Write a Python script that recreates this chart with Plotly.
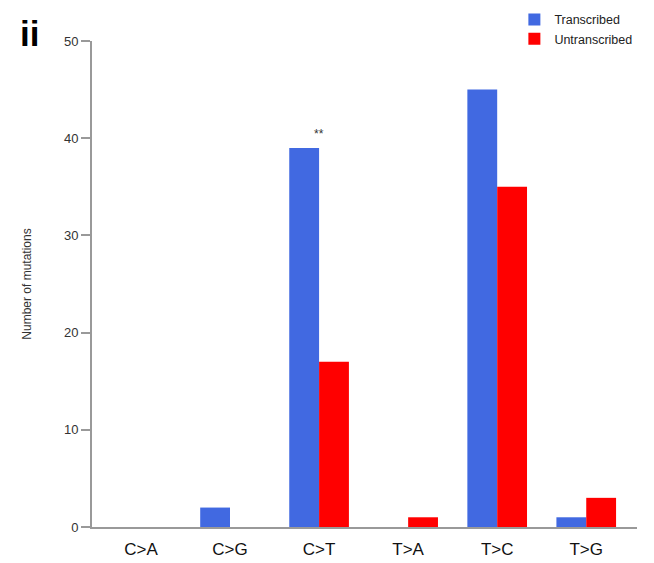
import plotly.graph_objects as go

categories = ["C>A", "C>G", "C>T", "T>A", "T>C", "T>G"]
transcribed = [0, 2, 39, 0, 45, 1]
untranscribed = [0, 0, 17, 1, 35, 3]
y_ticks = [0, 10, 20, 30, 40, 50]

fig = go.Figure()
fig.add_trace(go.Bar(name="Transcribed", x=categories, y=transcribed,
                     marker=dict(color="#4169E1", line=dict(width=0))))
fig.add_trace(go.Bar(name="Untranscribed", x=categories, y=untranscribed,
                     marker=dict(color="#FF0000", line=dict(width=0))))

# significance marker above the C>T pair
fig.add_annotation(x="C>T", y=transcribed[2], text="**", showarrow=False,
                   xshift=0, yshift=14, font=dict(size=12, color="#333333"))

# panel label
fig.add_annotation(xref="paper", yref="paper", x=-0.136, y=0.955, text="<b>ii</b>",
                   showarrow=False, xanchor="left", yanchor="middle",
                   font=dict(size=35, color="black", family="Liberation Sans"))

fig.update_layout(
    width=654, height=563,
    margin=dict(l=92, r=17, t=10, b=36, autoexpand=False),
    paper_bgcolor="white", plot_bgcolor="white",
    barmode="group", bargap=0.33, bargroupgap=0,
    font=dict(family="Liberation Sans", color="#333333"),
    legend=dict(x=0.775, y=1.01, xanchor="left", yanchor="top",
                font=dict(size=12.5, color="#222222"), bgcolor="rgba(0,0,0,0)",
                tracegroupgap=0, itemwidth=30),
    showlegend=True,
)
fig.update_xaxes(range=[-0.55, 5.57], showline=True, linecolor="#999999", linewidth=2,
                 ticks="", showgrid=False, zeroline=False, ticklabelstandoff=6,
                 automargin=False,
                 tickfont=dict(size=17, color="#111111", family="Liberation Sans"))
fig.update_yaxes(range=[0, 50], domain=[0, 0.940], tickvals=y_ticks, showline=True,
                 linecolor="#999999", linewidth=2, ticks="outside", ticklen=9,
                 tickcolor="#999999", tickwidth=2, showgrid=False, zeroline=False,
                 automargin=False,
                 tickfont=dict(size=13, color="#333333"),
                 title=dict(text="Number of mutations", font=dict(size=12, color="#333333"),
                            standoff=30))

fig.write_html("out.html")
